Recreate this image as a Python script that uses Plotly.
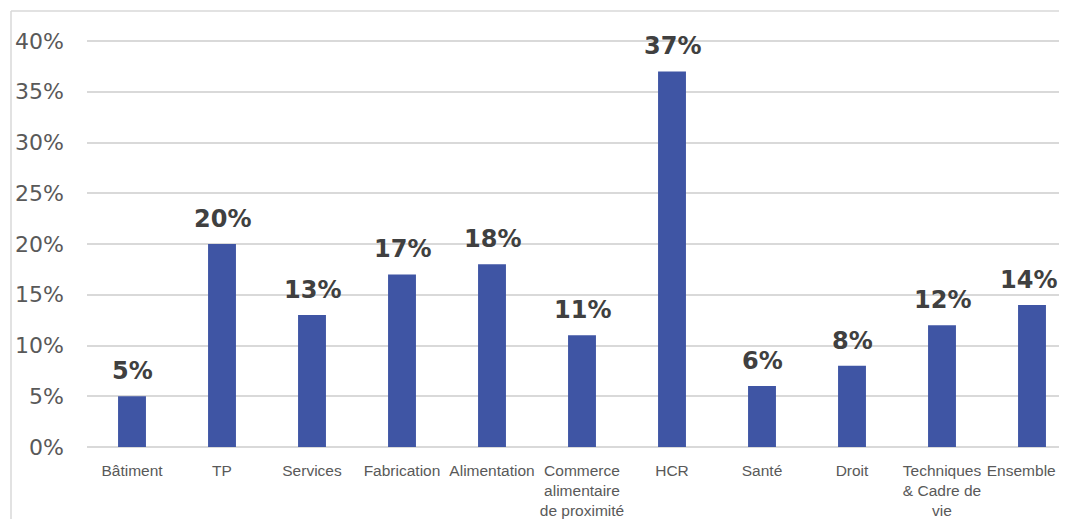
import plotly.graph_objects as go

categories = ["Bâtiment", "TP", "Services", "Fabrication", "Alimentation",
              "Commerce<br>alimentaire<br>de proximité", "HCR", "Santé", "Droit",
              "Techniques<br>& Cadre de<br>vie", "Ensemble"]
values = [5, 20, 13, 17, 18, 11, 37, 6, 8, 12, 14]
labels = [f"{v}%" for v in values]
yticks = [0, 5, 10, 15, 20, 25, 30, 35, 40]
ytick_text = [f"{t}%" for t in yticks]

# page body has an 8px margin; figure sized to fill the rest of the window
W, H = 1059, 511
ml, mr, mt, mb = 79, 0, 3, 72
plot_w = W - ml - mr
plot_h = H - mt - mb

# keep the last category label inside the visible window (padding with no-break spaces)
tick_text = categories[:-1] + [categories[-1] + "\u00a0" * 5]

fig = go.Figure()
fig.add_trace(go.Bar(
    x=list(range(len(categories))), y=values,
    marker=dict(color="#3F55A4", line=dict(width=0)),
    width=0.31,
    hoverinfo="skip",
))
n = len(values)
for i, (v, t) in enumerate(zip(values, labels)):
    fig.add_annotation(x=i, y=v, text=f"<b>{t}</b>", showarrow=False,
                       yanchor="bottom", yshift=9, xshift=-4 if i == n - 1 else 0,
                       font=dict(family="DejaVu Sans", size=24, color="#404040"))

ymax = 40 * plot_h / (447 - 41)
xmax = -0.5 + plot_w / 90.0

bx = (3 - ml) / plot_w
fig.add_shape(type="line", xref="paper", yref="paper", x0=bx, x1=1.01, y0=1, y1=1,
              line=dict(color="#D9D9D9", width=1.5))
fig.add_shape(type="line", xref="paper", yref="paper", x0=bx, x1=bx, y0=1, y1=-0.2,
              line=dict(color="#D9D9D9", width=1.5))

fig.update_layout(
    width=W, height=H,
    margin=dict(l=ml, r=mr, t=mt, b=mb),
    plot_bgcolor="white", paper_bgcolor="white",
    showlegend=False,
    xaxis=dict(
        tickmode="array", tickvals=list(range(len(categories))), ticktext=tick_text,
        range=[-0.5, xmax], showgrid=False, zeroline=False, showline=False,
        tickfont=dict(family="Liberation Sans", size=15.5, color="#595959"),
        ticks="", ticklabelstandoff=12, ticklabeloverflow="allow",
        automargin=False,
    ),
    yaxis=dict(
        range=[0, ymax], tickmode="array", tickvals=yticks, ticktext=ytick_text,
        showgrid=True, gridcolor="#D9D9D9", gridwidth=1.5,
        zeroline=True, zerolinecolor="#D9D9D9", zerolinewidth=1.5,
        showline=False, ticks="",
        tickfont=dict(family="DejaVu Sans", size=22, color="#595959"),
        ticklabelstandoff=22, automargin=False,
    ),
)

fig.write_html("out.html")
